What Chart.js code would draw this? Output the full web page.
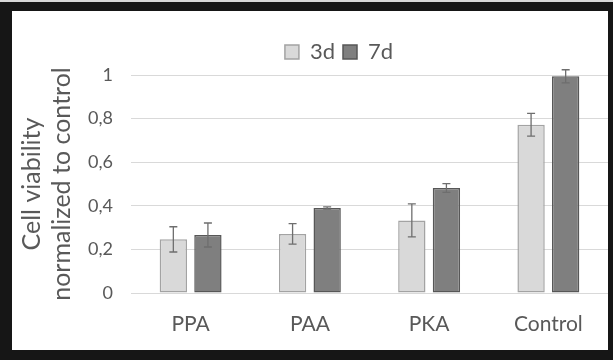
<!DOCTYPE html>
<html>
<head>
<meta charset="utf-8">
<script src="https://cdn.jsdelivr.net/npm/chart.js@4.4.0/dist/chart.umd.min.js"></script>
<style>
  html, body { margin: 0; padding: 0; background: #fff; }
  #frame { position: absolute; left: 0; top: 0; width: 613px; height: 358px; background: #161616; border-top: 2px solid #d8d8d8; }
  #inner { position: absolute; left: 12px; top: 9px; width: 596px; height: 339px; background: #fff; }
</style>
</head>
<body>
<div id="frame"><div id="inner"><canvas id="chart" width="596" height="339"></canvas></div></div>
<script>
const categories = ['PPA', 'PAA', 'PKA', 'Control'];
const series3d = [0.246, 0.271, 0.333, 0.772];
const err3d = [0.058, 0.047, 0.076, 0.052];
const series7d = [0.266, 0.39, 0.482, 0.994];
const err7d = [0.055, 0.005, 0.02, 0.03];
const yTicks = ['0', '0,2', '0,4', '0,6', '0,8', '1'];

const textColor = '#595959';
const fontFam = 'Lato, "Open Sans", sans-serif';

// error bars drawn on top of the bars
const errorBars = {
  id: 'errorBars',
  afterDatasetsDraw(chart) {
    const ctx = chart.ctx;
    const y = chart.scales.y;
    const errs = [err3d, err7d];
    ctx.save();
    ctx.strokeStyle = '#6e6e6e';
    ctx.lineWidth = 1.3;
    chart.data.datasets.forEach((ds, di) => {
      const meta = chart.getDatasetMeta(di);
      meta.data.forEach((bar, i) => {
        const v = ds.data[i], e = errs[di][i];
        const top = y.getPixelForValue(v + e);
        const bot = y.getPixelForValue(v - e);
        ctx.beginPath();
        ctx.moveTo(bar.x, top); ctx.lineTo(bar.x, bot);
        ctx.moveTo(bar.x - 4, top); ctx.lineTo(bar.x + 4, top);
        ctx.moveTo(bar.x - 4, bot); ctx.lineTo(bar.x + 4, bot);
        ctx.stroke();
      });
    });
    ctx.restore();
  }
};

// legend is centred over the plot area, not the whole canvas
const legendShift = {
  id: 'legendShift',
  afterLayout(chart) {
    chart.legend.left += 29;
    chart.legend.right += 29;
    chart.legend.top -= 2;
    chart.legend.bottom -= 2;
  }
};

new Chart(document.getElementById('chart'), {
  type: 'bar',
  data: {
    labels: categories,
    datasets: [
      { label: '3d', data: series3d, backgroundColor: '#d9d9d9', borderColor: '#a3a3a3', borderWidth: 1.5, borderSkipped: false },
      { label: '7d', data: series7d, backgroundColor: '#7f7f7f', borderColor: '#575757', borderWidth: 1.5, borderSkipped: false }
    ]
  },
  options: {
    responsive: false,
    animation: false,
    categoryPercentage: 0.58,
    barPercentage: 0.79,
    layout: { padding: { top: 24, right: 0, left: 0, bottom: 0 } },
    plugins: {
      legend: {
        position: 'top',
        labels: { color: textColor, font: { family: fontFam, size: 22 }, boxWidth: 14, boxHeight: 14, padding: 8 }
      },
      tooltip: { enabled: false }
    },
    scales: {
      x: {
        grid: { display: false },
        border: { display: false },
        ticks: { color: textColor, font: { family: fontFam, size: 21 }, padding: 11 },
        afterFit(scale) { scale.height = 57; }
      },
      y: {
        min: 0, max: 1,
        grid: { color: '#d9d9d9', lineWidth: 1, drawTicks: false },
        border: { display: false },
        ticks: {
          stepSize: 0.2, color: textColor, font: { family: fontFam, size: 18 }, padding: 18,
          callback: (v, i) => yTicks[i]
        },
        title: {
          display: true,
          text: ['Cell viability', 'normalized to control'],
          color: textColor,
          font: { family: fontFam, size: 25 },
          padding: { top: 5, bottom: 6 }
        },
        afterFit(scale) { scale.width = 119; }
      }
    }
  },
  plugins: [errorBars, legendShift]
});
</script>
</body>
</html>
